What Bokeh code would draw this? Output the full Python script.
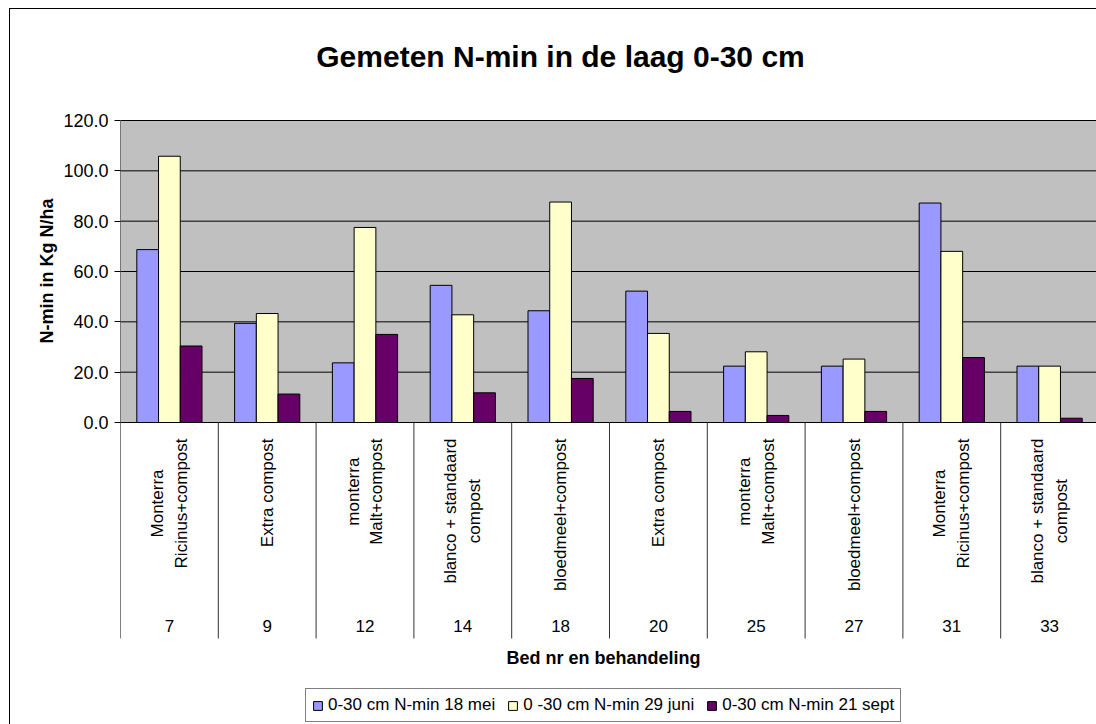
import math
from bokeh.plotting import figure
from bokeh.models import Range1d, FixedTicker, Legend, LegendItem, NumeralTickFormatter, Title
from bokeh.embed import file_html
from bokeh.resources import INLINE
from bokeh.core.properties import value

# ---------------- data ----------------
bed_nrs = ["7", "9", "12", "14", "18", "20", "25", "27", "31", "33"]
treatments = [
    "Monterra\nRicinus+compost",
    "Extra compost",
    "monterra\nMalt+compost",
    "blanco + standaard\ncompost",
    "bloedmeel+compost",
    "Extra compost",
    "monterra\nMalt+compost",
    "bloedmeel+compost",
    "Monterra\nRicinus+compost",
    "blanco + standaard\ncompost",
]
series_names = ["0-30 cm N-min 18 mei", "0 -30 cm N-min 29 juni", "0-30 cm N-min 21 sept"]
nmin_18_mei = [68.7, 39.4, 23.7, 54.5, 44.4, 52.2, 22.4, 22.4, 87.2, 22.4]
nmin_29_juni = [105.8, 43.3, 77.5, 42.8, 87.6, 35.4, 28.1, 25.2, 68.0, 22.4]
nmin_21_sept = [30.4, 11.3, 35.0, 11.8, 17.5, 4.4, 2.8, 4.4, 25.8, 1.7]
y_ticks = [0, 20, 40, 60, 80, 100, 120]
series_colors = ["#9999FF", "#FFFFCC", "#660066"]
chart_title = "Gemeten N-min in de laag 0-30 cm"
x_title = "Bed nr en behandeling"
y_title = "N-min in Kg N/ha"

# ---------------- layout (pixels) ----------------
W, H = 1096, 724
FONT = "Liberation Sans"
frame_left = 120          # left edge of plot area
base_px = 422             # pixel row of value 0
ppu = 302.0 / 120.0       # pixels per kg N/ha
cat_px = 97.8             # width of one category
n = len(bed_nrs)

def ydat(py):             # pixel row -> data value
    return (base_px - py) / ppu

def xdat(px):             # pixel column -> category units
    return (px - frame_left) / cat_px

p = figure(width=W, height=H, output_backend="svg", toolbar_location=None,
           x_range=Range1d(0, xdat(W)), y_range=Range1d(ydat(H), ydat(0)),
           min_border_left=frame_left, min_border_top=0, min_border_bottom=0, min_border_right=0,
           background_fill_color=None, border_fill_color=None, outline_line_color=None)
p.styles = {"background": "linear-gradient(#000,#000) 9px 8px / 1px 100% no-repeat, "
                          "linear-gradient(#000,#000) 9px 8px / 100% 1px no-repeat, #fff"}

# gray plot area and gridlines
p.quad(left=[0], right=[n], bottom=[0], top=[max(y_ticks)], fill_color="#C0C0C0", line_color=None)
grid_y = y_ticks[1:]
p.segment(x0=[0] * len(grid_y), x1=[n] * len(grid_y), y0=grid_y, y1=grid_y, line_color="black", line_width=1)

# bars
bw = 1 / 4.5
renderers = []
for k, (vals, col) in enumerate(zip([nmin_18_mei, nmin_29_juni, nmin_21_sept], series_colors)):
    xs = [i + 0.5 + (k - 1) * bw for i in range(n)]
    r = p.vbar(x=xs, top=vals, bottom=0, width=bw, fill_color=col, line_color="black", line_width=1)
    renderers.append(r)

# axis line, baseline and category separators
sep_bottom = ydat(638)
p.segment(x0=[0], x1=[0], y0=[sep_bottom], y1=[max(y_ticks)], line_color="black", line_width=1)
p.segment(x0=[0], x1=[n], y0=[0], y1=[0], line_color="black", line_width=1)
p.segment(x0=list(range(1, n + 1)), x1=list(range(1, n + 1)), y0=[0] * n, y1=[sep_bottom] * n,
          line_color="#333333", line_width=1)

# category text (rotated, top-aligned under the axis)
W_EM = dict(a=.556, b=.556, c=.5, d=.556, e=.556, f=.278, g=.556, h=.556, i=.222, j=.222, k=.5, l=.222,
            m=.833, n=.556, o=.556, p=.556, q=.556, r=.333, s=.5, t=.278, u=.556, v=.5, w=.722, x=.5,
            y=.5, z=.5, E=.667, M=.833, R=.722)
W_EM["+"] = .584
W_EM[" "] = .278
lab_fs = 17
def text_len(s):
    return max(sum(W_EM.get(ch, .556) for ch in line) for line in s.split("\n")) * lab_fs

lab_y = [ydat(438 + text_len(t) / 2) for t in treatments]
p.text(x=[i + 0.5 for i in range(n)], y=lab_y, text=treatments, angle=math.pi / 2,
       text_align="center", text_baseline="middle", text_font=value(FONT),
       text_font_size=f"{lab_fs}px", text_color="black", text_line_height=1.25)
p.text(x=[i + 0.5 for i in range(n)], y=[ydat(625)] * n, text=bed_nrs,
       text_align="center", text_baseline="middle", text_font=value(FONT),
       text_font_size="17px", text_color="black")

# chart title and x title
p.text(x=[xdat(560)], y=[ydat(56)], text=[chart_title], text_align="center", text_baseline="middle",
       text_font=value(FONT), text_font_size="30px", text_font_style="bold", text_color="black")
p.text(x=[xdat(603)], y=[ydat(657)], text=[x_title], text_align="center", text_baseline="middle",
       text_font=value(FONT), text_font_size="18px", text_font_style="bold", text_color="black")

# y axis
p.yaxis.ticker = FixedTicker(ticks=y_ticks)
p.yaxis.formatter = NumeralTickFormatter(format="0.0")
p.yaxis.major_label_text_font = FONT
p.yaxis.major_label_text_font_size = "18px"
p.yaxis.major_label_text_color = "black"
p.yaxis.major_tick_out = 6
p.yaxis.major_tick_in = 0
p.yaxis.minor_tick_out = 0
p.yaxis.minor_tick_in = 0
p.yaxis.major_label_standoff = 6
p.yaxis.axis_line_color = None
p.yaxis.major_tick_line_color = "black"
p.xaxis.visible = False
p.ygrid.visible = False
p.xgrid.visible = False

# y axis title as a side title so it can be centred on the 0-120 band
ytitle = Title(text=y_title, align="left", offset=H - 343, standoff=8,
               text_font=FONT, text_font_size="18px", text_font_style="bold", text_color="black")
p.add_layout(ytitle, "left")

legend = Legend(items=[LegendItem(label=s, renderers=[r]) for s, r in zip(series_names, renderers)],
                location=(185, 2), orientation="horizontal", border_line_color="black",
                border_line_width=1, label_text_font=FONT, label_text_font_size="17px",
                label_text_color="black", glyph_width=11, glyph_height=11, label_standoff=5,
                spacing=12, padding=6, margin=0, background_fill_color="white",
                background_fill_alpha=1.0, label_height=18)
p.add_layout(legend, "center")

open("out.html", "w").write(file_html(p, INLINE))
